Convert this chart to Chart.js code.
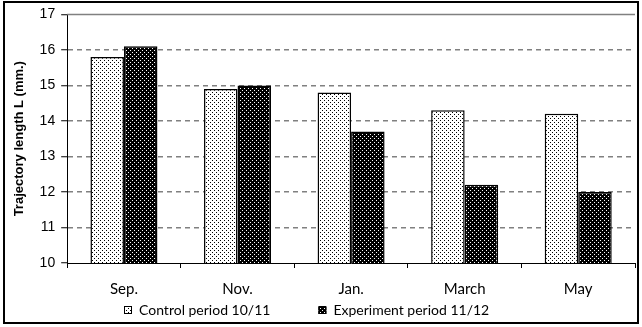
<!DOCTYPE html>
<html><head><meta charset="utf-8">
<script src="https://cdn.jsdelivr.net/npm/chart.js@4"></script>
<style>html,body{margin:0;padding:0;background:#fff;overflow:hidden}#wrap{width:642px;height:327px;position:relative}</style>
</head><body><div id="wrap"><canvas id="c" width="642" height="327" style="width:642px;height:327px"></canvas></div>
<script>
const categories = ['Sep.', 'Nov.', 'Jan.', 'March', 'May'];
const controlValues = [15.8, 14.9, 14.8, 14.3, 14.2];
const experimentValues = [16.1, 15.0, 13.7, 12.2, 12.0];
const seriesNames = ['Control period 10/11', 'Experiment period 11/12'];
const yTickValues = [10, 11, 12, 13, 14, 15, 16, 17];
const yAxisTitle = 'Trajectory length L (mm.)';

const canvas = document.getElementById('c');
const ctx = canvas.getContext('2d');

function makePattern(bg, dot) {
  const c = document.createElement('canvas');
  c.width = 4; c.height = 4;
  const x = c.getContext('2d');
  x.fillStyle = bg; x.fillRect(0, 0, 4, 4);
  x.fillStyle = dot;
  x.fillRect(0, 0, 1, 1);
  x.fillRect(2, 2, 1, 1);
  return ctx.createPattern(c, 'repeat');
}
const controlFill = makePattern('#ffffff', '#000000');
const experimentFill = makePattern('#000000', '#ffffff');

const framePlugin = {
  id: 'frame',
  beforeDatasetsDraw(chart) {
    const y = chart.scales.y, c = chart.ctx, a = chart.chartArea;
    const top = Math.round(y.getPixelForValue(yTickValues[yTickValues.length - 1])) + 0.5;
    c.save();
    c.strokeStyle = '#808080'; c.lineWidth = 1.5;
    c.beginPath(); c.moveTo(a.left, top); c.lineTo(a.right, top); c.stroke();
    c.restore();
  },
  afterDraw(chart) {
    const c = chart.ctx;
    const font = '14px Lato';
    c.save();
    c.font = font;
    const box = 8, gap = 7, spacing = 48;
    const items = chart.data.datasets.map(ds => ({ ds, w: c.measureText(ds.label).width }));
    const total = items.reduce((s, it) => s + box + gap + it.w, 0) + spacing * (items.length - 1);
    let x = Math.round(307 - total / 2);
    const cy = 310;
    c.textBaseline = 'middle';
    items.forEach(it => {
      c.fillStyle = it.ds.backgroundColor;
      c.fillRect(x, cy - box / 2, box, box);
      c.strokeStyle = '#000'; c.lineWidth = 1;
      c.strokeRect(x + 0.5, cy - box / 2 + 0.5, box - 1, box - 1);
      c.fillStyle = '#000';
      c.fillText(it.ds.label, x + box + gap, cy);
      x += box + gap + it.w + spacing;
    });
    c.strokeStyle = '#000'; c.lineWidth = 2;
    c.strokeRect(4, 2, chart.width - 8, chart.height - 6);
    c.restore();
  }
};

new Chart(canvas, {
  type: 'bar',
  data: {
    labels: categories,
    datasets: [
      { label: seriesNames[0], data: controlValues, backgroundColor: controlFill, borderColor: '#000', borderWidth: 1.5 },
      { label: seriesNames[1], data: experimentValues, backgroundColor: experimentFill, borderColor: '#000', borderWidth: 1.5 }
    ]
  },
  options: {
    responsive: false,
    animation: false,
    devicePixelRatio: 1,
    layout: { padding: { left: 12, right: 7, top: 10, bottom: 17 } },
    datasets: { bar: { categoryPercentage: 0.59, barPercentage: 1.0 } },
    plugins: {
      tooltip: { enabled: false },
      legend: { display: false }
    },
    scales: {
      x: {
        grid: { offset: true, drawOnChartArea: false, drawTicks: true, tickLength: 5, color: '#000', lineWidth: 1 },
        border: { color: '#000', width: 1 },
        ticks: { color: '#000', font: { family: 'Lato', size: 15 }, padding: 12 }
      },
      y: {
        min: 10, max: 17,
        afterBuildTicks(scale) { scale.ticks = yTickValues.map(v => ({ value: v })); },
        grid: {
          color: c => (c.tick && (c.tick.value === 17 || c.tick.value === 10)) ? 'rgba(0,0,0,0)' : '#808080',
          lineWidth: 1.5,
          drawTicks: true, tickLength: 6, tickColor: '#000', tickWidth: 1
        },
        border: { color: '#000', width: 1, dash: [5, 4] },
        ticks: { color: '#000', font: { family: 'Liberation Sans', size: 14 }, padding: 6 },
        title: { display: true, text: yAxisTitle, color: '#000', font: { family: 'Liberation Sans', size: 13, weight: 'bold' }, padding: { top: 0, bottom: 6 } }
      }
    }
  },
  plugins: [framePlugin]
});
</script></body></html>
